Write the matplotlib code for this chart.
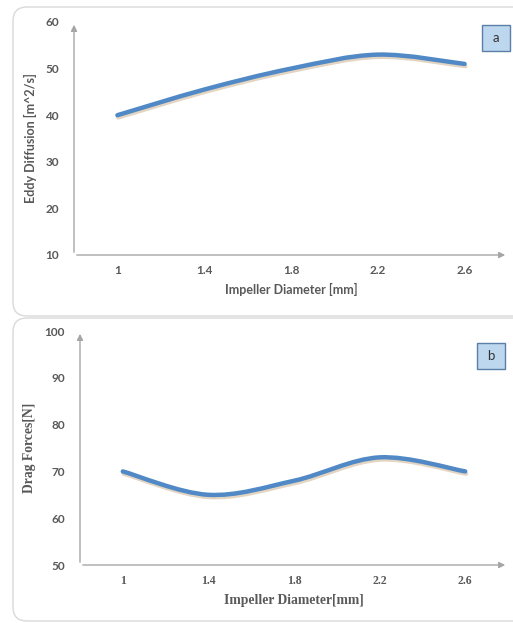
import matplotlib
matplotlib.use("Agg")
import matplotlib.pyplot as plt
import matplotlib.patheffects as pe
from matplotlib.patches import FancyBboxPatch, Rectangle, PathPatch
from matplotlib.path import Path
from matplotlib.transforms import IdentityTransform

# ── Datos ─────────────────────────────────────────────────────────────────────
diameter = [1.0, 1.4, 1.8, 2.2, 2.6]
x_ticks = ["1", "1.4", "1.8", "2.2", "2.6"]
eddy_diffusion = [40, 45.5, 50, 53, 51]
drag_forces = [70, 65, 68, 73, 70]
eddy_yticks = [10, 20, 30, 40, 50, 60]
drag_yticks = [50, 60, 70, 80, 90, 100]

W, H = 513, 623
LINE_COLOR = "#5089C6"
AXIS_COLOR = "#A6A6A6"
TEXT_COLOR = "#595959"
SANS = ["Lato", "DejaVu Sans"]
SERIF = ["Liberation Serif", "DejaVu Serif"]


def px_axes(fig, left, right, top, bottom):
    # caja de ejes en píxeles (origen arriba a la izquierda)
    return fig.add_axes([left / W, 1 - bottom / H, (right - left) / W, (bottom - top) / H])


def smooth_path(xs, ys):
    # curva suavizada tipo Excel (Catmull-Rom -> Bezier cúbica)
    pts = list(zip(xs, ys))
    verts = [pts[0]]
    codes = [Path.MOVETO]
    n = len(pts)
    for i in range(n - 1):
        p0 = pts[max(i - 1, 0)]
        p1 = pts[i]
        p2 = pts[i + 1]
        p3 = pts[min(i + 2, n - 1)]
        c1 = (p1[0] + (p2[0] - p0[0]) / 6, p1[1] + (p2[1] - p0[1]) / 6)
        c2 = (p2[0] - (p3[0] - p1[0]) / 6, p2[1] - (p3[1] - p1[1]) / 6)
        verts += [c1, c2, p2]
        codes += [Path.CURVE4] * 3
    return Path(verts, codes)


def draw_panel(fig, box, values, yticks, ylabel, xlabel, label_font, label_size, tag, tag_box):
    left, right, top, bottom = box
    ax = px_axes(fig, left, right, top, bottom)
    ax.set_xlim(0.8, 2.8)
    ax.set_ylim(yticks[0], yticks[-1])
    for s in ax.spines.values():
        s.set_visible(False)
    ax.set_facecolor("none")

    # ejes con flecha
    ax.annotate("", xy=(0, 1.0), xytext=(0, 0), xycoords="axes fraction",
                arrowprops=dict(arrowstyle="-|>", color=AXIS_COLOR, lw=1, mutation_scale=9))
    ax.annotate("", xy=(1.0, 0), xytext=(0, 0), xycoords="axes fraction",
                arrowprops=dict(arrowstyle="-|>", color=AXIS_COLOR, lw=1, mutation_scale=9))

    patch = PathPatch(smooth_path(diameter, values), fill=False, edgecolor=LINE_COLOR,
                      lw=3.2, capstyle="round", joinstyle="round")
    patch.set_path_effects([
        pe.SimpleLineShadow(offset=(0.6, -1.6), shadow_color="#b08850", alpha=0.35),
        pe.Normal(),
    ])
    ax.add_patch(patch)

    ax.set_xticks(diameter)
    ax.set_xticklabels(x_ticks, family=label_font, fontsize=8.5, fontweight="bold", color=TEXT_COLOR)
    ax.set_yticks(yticks)
    ax.set_yticklabels([str(v) for v in yticks], family=SANS, fontsize=8.5,
                       fontweight="bold", color=TEXT_COLOR)
    ax.tick_params(axis="both", length=0)
    ax.tick_params(axis="x", pad=7)
    ax.tick_params(axis="y", pad=11)

    ax.set_xlabel(xlabel, family=label_font, fontsize=label_size, fontweight="bold",
                  color=TEXT_COLOR, labelpad=5)
    ax.set_ylabel(ylabel, family=label_font, fontsize=label_size, fontweight="bold",
                  color=TEXT_COLOR, labelpad=6)

    # recuadro con la letra del panel
    tx0, tx1, ty0, ty1 = tag_box
    fig.patches.append(Rectangle((tx0, H - ty1), tx1 - tx0, ty1 - ty0, transform=IdentityTransform(),
                                 facecolor="#BDD7EE", edgecolor="#5A7FA8", lw=1, zorder=3))
    fig.text((tx0 + tx1) / 2 / W, 1 - (ty0 + ty1) / 2 / H, tag, ha="center", va="center",
             fontsize=9.5, family=SANS, color="#333333", zorder=4)
    return ax


fig = plt.figure(figsize=(W / 100, H / 100), dpi=100)

# marcos redondeados de cada panel
for y0, y1 in [(7, 316), (318, 621)]:
    fig.patches.append(FancyBboxPatch((13, H - y1), 540, y1 - y0, transform=IdentityTransform(),
                                      boxstyle="round,pad=0,rounding_size=14",
                                      facecolor="none", edgecolor="#D9D9D9", lw=1, zorder=-1))

draw_panel(fig, (74, 508, 22, 255), eddy_diffusion, eddy_yticks,
           "Eddy Diffusion [m^2/s]", "Impeller Diameter [mm]", SANS, 9, "a", (482, 510, 25, 51))
draw_panel(fig, (80, 508, 331, 565), drag_forces, drag_yticks,
           "Drag Forces[N]", "Impeller Diameter[mm]", SERIF, 9.8, "b", (477, 505, 343, 369))

fig.savefig("out.png", dpi=100)
